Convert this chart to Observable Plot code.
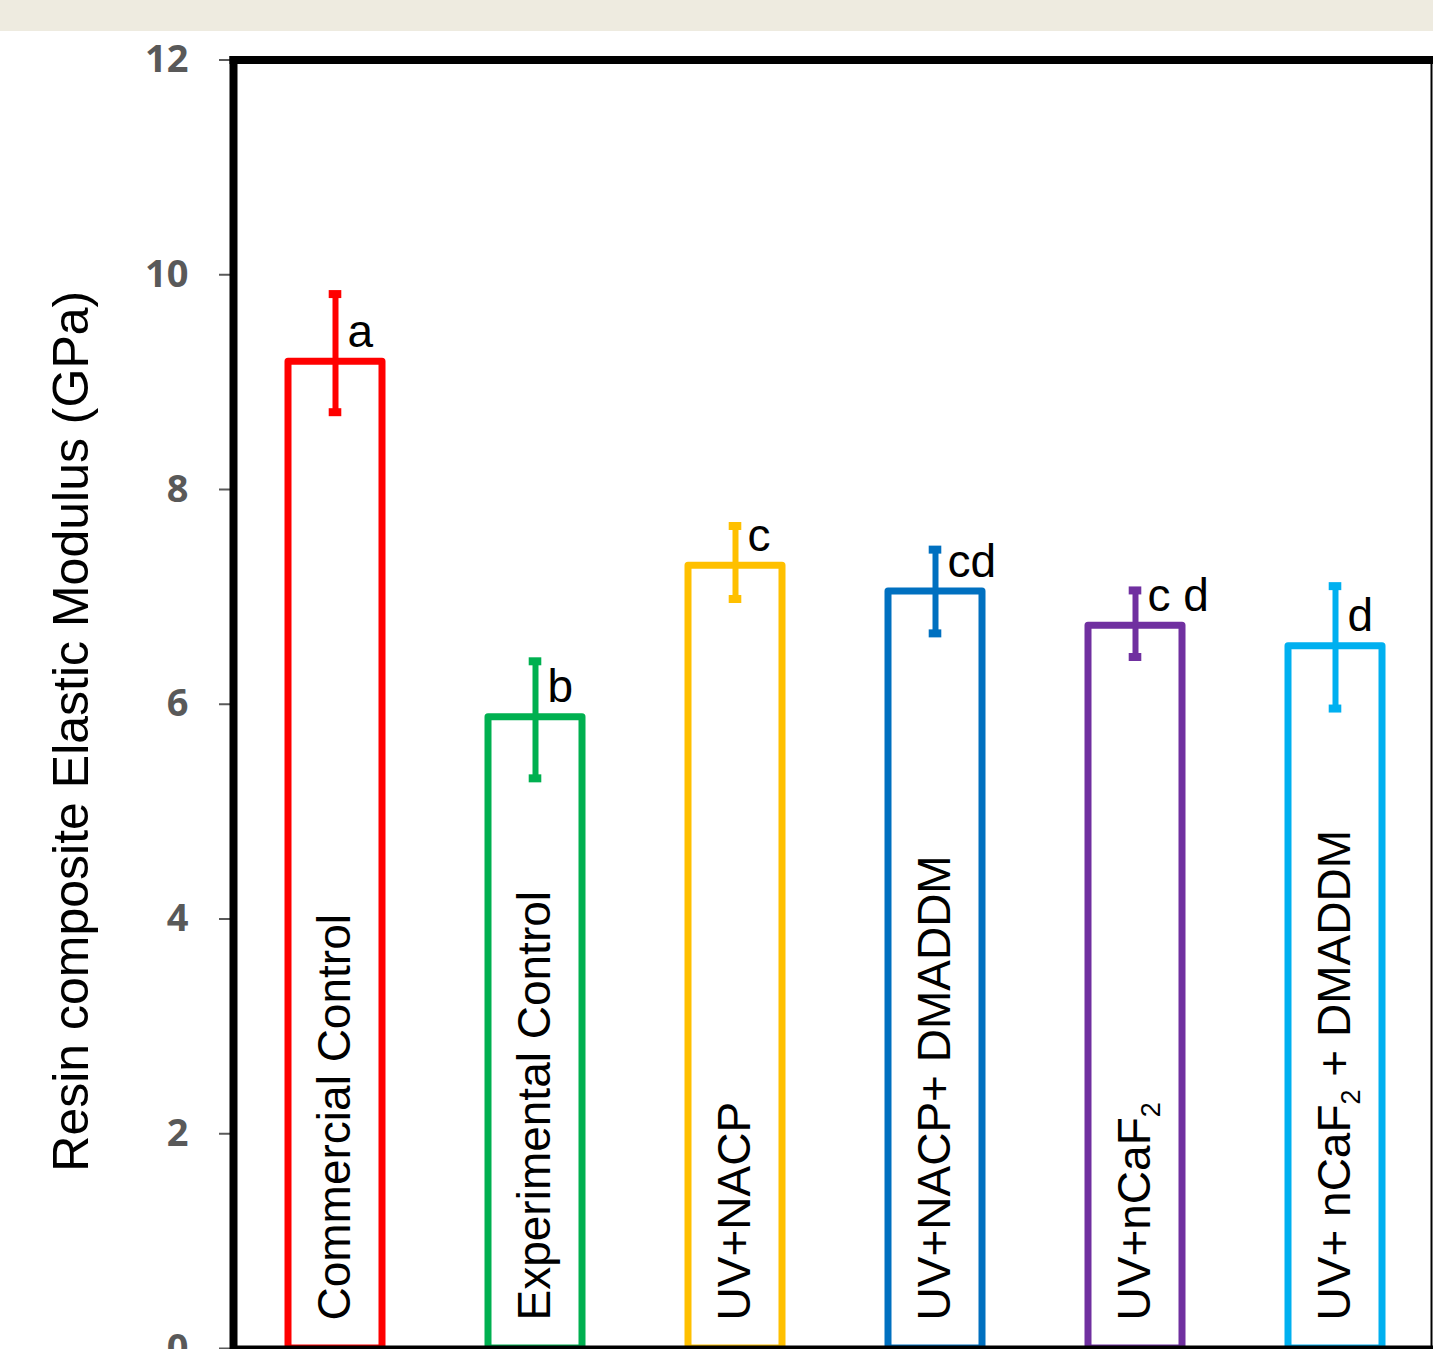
<!DOCTYPE html>
<html>
<head>
<meta charset="utf-8">
<script src="https://cdn.jsdelivr.net/npm/d3@7"></script>
<script src="https://cdn.jsdelivr.net/npm/@observablehq/plot@0.6"></script>
<style>
  html, body { margin: 0; padding: 0; overflow: hidden; background: #ffffff; }
  .band { height: 31px; background: #EEEBE0; }
  #chart svg { display: block; }
</style>
</head>
<body>
<div class="band"></div>
<div id="chart"></div>
<script>
// Resin composite groups, in display order
const groups = [
  "Commercial Control",
  "Experimental Control",
  "UV+NACP",
  "UV+NACP+ DMADDM",
  "UV+nCaF₂",
  "UV+ nCaF₂ + DMADDM"
];
// Mean elastic modulus (GPa)
const means = [9.19, 5.88, 7.29, 7.05, 6.73, 6.54];
// Error bar extents (GPa)
const lows = [8.72, 5.31, 6.98, 6.66, 6.44, 5.96];
const highs = [9.82, 6.40, 7.66, 7.44, 7.06, 7.10];
// Statistical grouping letters
const letters = ["a", "b", "c", "cd", "c d", "d"];
// Outline colour per group
const colors = ["#FF0000", "#00B050", "#FFC000", "#0070C0", "#7030A0", "#00B0F0"];
// Y axis ticks and title
const yTicks = [0, 2, 4, 6, 8, 10, 12];
const yTitle = "Resin composite Elastic Modulus (GPa)";

const rows = groups.map((g, i) => ({
  group: g, mean: means[i], low: lows[i], high: highs[i], letter: letters[i]
}));

const W = 1433, H = 1318;
const step = 200.3;
const firstCenter = 334;
const font = "'Liberation Sans', Arial, sans-serif";

const chart = Plot.plot({
  width: W,
  height: H,
  marginTop: 28.5,
  marginLeft: 233,
  marginRight: 2,
  marginBottom: 1,
  style: { fontFamily: font, fontSize: "46px", background: "white", overflow: "visible" },
  x: {
    domain: groups,
    range: [firstCenter - step / 2, firstCenter + step * (groups.length - 0.5)],
    paddingInner: 0.528,
    paddingOuter: 0.264,
    axis: null
  },
  y: { domain: [0, 12], axis: null },
  color: { domain: groups, range: colors },
  marks: [
    // open bars
    Plot.barY(rows, {
      x: "group", y: "mean", fill: "white", stroke: "group",
      strokeWidth: 7, strokeLinejoin: "round"
    }),
    // error bars
    Plot.ruleX(rows, { x: "group", y1: "low", y2: "high", stroke: "group", strokeWidth: 6 }),
    Plot.tickY(rows, { x: "group", y: "high", stroke: "group", strokeWidth: 8, insetLeft: 40.7, insetRight: 40.7 }),
    Plot.tickY(rows, { x: "group", y: "low", stroke: "group", strokeWidth: 8, insetLeft: 40.7, insetRight: 40.7 }),
    // vertical group names inside the bars
    Plot.text(rows, {
      x: "group", y: () => 0, text: "group", rotate: -90,
      textAnchor: "start", lineAnchor: "middle", dy: -28,
      fontSize: 46, fill: "black"
    }),
    // grouping letters
    Plot.text(rows, {
      x: "group", y: "mean", text: "letter",
      textAnchor: "start", lineAnchor: "bottom", dx: 12, dy: -15,
      fontSize: 46, fill: "black"
    }),
    // y axis
    Plot.axisY({
      ticks: yTicks, tickSize: 14, tickPadding: 31, label: null,
      fontSize: 38, fontWeight: 700, fontFamily: "'Open Sans', sans-serif",
      color: "#595959", strokeWidth: 2
    }),
    // y axis title
    Plot.text([yTitle], {
      frameAnchor: "left", rotate: -90, textAnchor: "middle", lineAnchor: "middle",
      dx: -162, dy: 27, fontSize: 50, fill: "black"
    }),
    // plot area border
    Plot.frame({ anchor: "left", stroke: "black", strokeWidth: 8, strokeLinecap: "square" }),
    Plot.frame({ anchor: "top", stroke: "black", strokeWidth: 8, strokeLinecap: "square" }),
    Plot.frame({ anchor: "bottom", stroke: "black", strokeWidth: 6 }),
    Plot.frame({ anchor: "right", stroke: "black", strokeWidth: 2 })
  ]
});

// render the chemical subscript in "CaF₂" as a lowered, smaller digit
chart.querySelectorAll("text").forEach((t) => {
  const s = t.textContent;
  if (!s.includes("₂") || t.children.length) return;
  const parts = s.split("₂");
  t.textContent = "";
  parts.forEach((p, i) => {
    if (i > 0) {
      const sub = document.createElementNS("http://www.w3.org/2000/svg", "tspan");
      sub.setAttribute("font-size", "27");
      sub.setAttribute("dy", "10");
      sub.textContent = "2";
      t.appendChild(sub);
    }
    const span = document.createElementNS("http://www.w3.org/2000/svg", "tspan");
    if (i > 0) span.setAttribute("dy", "-10");
    span.textContent = p;
    t.appendChild(span);
  });
});

document.getElementById("chart").appendChild(chart);
</script>
</body>
</html>
